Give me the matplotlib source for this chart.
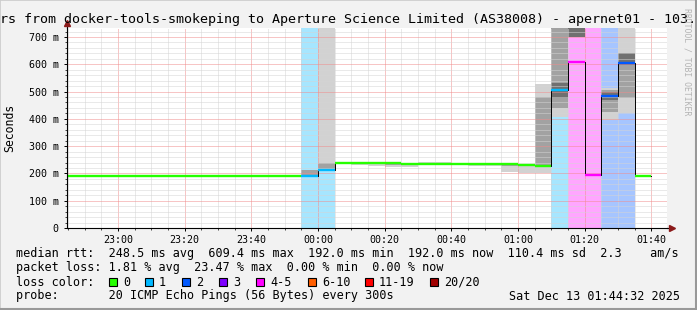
import numpy as np
import matplotlib
matplotlib.use("Agg")
import matplotlib.pyplot as plt
from matplotlib.patches import Rectangle
from matplotlib.ticker import MultipleLocator

plt.rcParams['font.family'] = 'DejaVu Sans Mono'

W, H = 697, 310

# 5 minute bins, start time of each bin
bin_time = ["22:40", "22:45", "22:50", "22:55", "23:00", "23:05", "23:10", "23:15",
            "23:20", "23:25", "23:30", "23:35", "23:40", "23:45", "23:50", "23:55",
            "00:00", "00:05", "00:10", "00:15", "00:20", "00:25", "00:30", "00:35",
            "00:40", "00:45", "00:50", "00:55", "01:00", "01:05", "01:10", "01:15",
            "01:20", "01:25", "01:30", "01:35"]
median_ms = [192, 192, 192, 192, 192, 192, 192, 192,
             192, 192, 192, 192, 192, 192, 192, 190,
             213, 238, 239, 238, 237, 236, 236, 235,
             235, 234, 234, 233, 231, 228, 505, 609,
             196, 483, 603, 192]
lost_pings = [0, 0, 0, 0, 0, 0, 0, 0,
              0, 0, 0, 0, 0, 0, 0, 1,
              1, 0, 0, 0, 0, 0, 0, 0,
              0, 0, 0, 0, 0, 0, 1, 5,
              4, 2, 2, 0]

# smoke (spread of the 20 pings), three shades
smoke_time = ["23:55", "00:00", "00:05", "00:10", "00:15", "00:20", "00:25", "00:30",
              "00:35", "00:45", "00:50", "00:55", "01:00", "01:05", "01:10", "01:15",
              "01:25", "01:30"]
outer_lo = [190, 213, 233, 232, 228, 225, 222, 230, 234, 229, 228, 206, 200, 200, 407, 700, 395, 421]
outer_hi = [213, 800, 240, 240, 240, 240, 240, 241, 242, 236, 236, 235, 233, 527, 800, 800, 513, 800]
core_lo = [190, 213, 236, 235, 233, 232, 230, 234, 235, 232, 231, 226, 226, 228, 440, 700, 425, 476]
core_hi = [213, 240, 239, 239, 238, 238, 238, 239, 239, 234, 234, 234, 232, 480, 800, 800, 505, 641]
dark_time = ["00:20", "00:25", "01:10", "01:15", "01:25", "01:30"]
dark_lo = [234, 234, 476, 700, 470, 597]
dark_hi = [238, 238, 531, 800, 500, 641]

loss_labels = ["0", "1", "2", "3", "4-5", "6-10", "11-19", "20/20"]
loss_limits = [0, 1, 2, 3, 5, 10, 19, 20]
loss_colors = ["#26ff00", "#00b8ff", "#0059ff", "#7e00ff", "#ff00ff", "#ff5e00", "#ff0000", "#a10000"]

x_tick_labels = ["23:00", "23:20", "23:40", "00:00", "00:20", "00:40", "01:00", "01:20", "01:40"]
y_tick_labels = ["0", "100 m", "200 m", "300 m", "400 m", "500 m", "600 m", "700 m"]

legend_lines = [
    "median rtt:  248.5 ms avg  609.4 ms max  192.0 ms min  192.0 ms now  110.4 ms sd  2.3    am/s",
    "packet loss: 1.81 % avg  23.47 % max  0.00 % min  0.00 % now",
    "loss color:",
    "probe:       20 ICMP Echo Pings (56 Bytes) every 300s",
]
stamp = "Sat Dec 13 01:44:32 2025"


def to_min(s):
    h, m = map(int, s.split(":"))
    v = h * 60 + m
    return v - 1440 if h >= 12 else v


def loss_class(n):
    for i, lim in enumerate(loss_limits):
        if n <= lim:
            return i
    return len(loss_limits) - 1


fig = plt.figure(figsize=(W / 100, H / 100), dpi=100, facecolor='#f2f2f2')
ax = fig.add_axes([67 / W, (H - 228) / H, 600 / W, 200 / H])
ax.set_facecolor('white')

x0 = np.array([to_min(s) for s in bin_time])
med = np.array(median_ms)
cls = [loss_class(n) for n in lost_pings]

# loss background
for x, c, n in zip(x0, cls, lost_pings):
    if n > 0:
        ax.bar(x, 1000, bottom=0, width=5, align='edge', color=loss_colors[c],
               alpha=0.35, lw=0, zorder=1)

# smoke
sx = np.array([to_min(s) for s in smoke_time])
ax.bar(sx, np.array(outer_hi) - outer_lo, bottom=outer_lo, width=5, align='edge',
       color='#d2d2d2', lw=0, zorder=1.2)
ax.bar(sx, np.array(core_hi) - core_lo, bottom=core_lo, width=5, align='edge',
       color='#a2a2a2', lw=0, zorder=1.3)
dx = np.array([to_min(s) for s in dark_time])
ax.bar(dx, np.array(dark_hi) - dark_lo, bottom=dark_lo, width=5, align='edge',
       color='#707070', lw=0, zorder=1.4)

# median line
xs = np.append(x0, x0[-1] + 5)
ys = np.append(med, med[-1])
ax.step(xs, ys, where='post', color='black', lw=0.7, zorder=3)
ax.hlines(med, x0, x0 + 5, colors=[loss_colors[c] for c in cls], lw=1.7, zorder=4)

ax.set_xlim(-75.3, 104.7)
ax.set_ylim(0, 733)

ax.set_xticks([to_min(s) for s in x_tick_labels])
ax.set_xticklabels(x_tick_labels)
ax.xaxis.set_minor_locator(MultipleLocator(5))
ax.set_yticks(np.arange(len(y_tick_labels)) * 100)
ax.set_yticklabels(y_tick_labels)
ax.yaxis.set_minor_locator(MultipleLocator(20))

ax.set_axisbelow(False)
ax.grid(which='minor', color='#d4d4d4', ls=(0, (1, 1)), lw=0.72)
ax.grid(which='major', color='#f08c8c', ls=(0, (1, 1)), lw=0.72)

for s in ['top', 'right']:
    ax.spines[s].set_visible(False)
for s in ['left', 'bottom']:
    ax.spines[s].set_linewidth(0.8)
    ax.spines[s].set_zorder(5)
ax.tick_params(which='major', direction='out', length=2, width=0.7, labelsize=7.2)
ax.tick_params(axis='x', which='major', pad=3)
ax.tick_params(axis='y', which='major', pad=4)
ax.tick_params(which='minor', direction='out', length=1.2, width=0.5)

# axis arrows
ax.plot([0, 0], [1, 1.02], transform=ax.transAxes, color='black', lw=0.8, clip_on=False)
ax.plot(0, 1.025, marker='^', ms=4.5, color='#8b1a1a', mec='#8b1a1a',
        transform=ax.transAxes, clip_on=False)
ax.plot([1, 1.006], [0, 0], transform=ax.transAxes, color='black', lw=0.8, clip_on=False)
ax.plot(1.008, 0, marker='>', ms=4.5, color='#8b1a1a', mec='#8b1a1a',
        transform=ax.transAxes, clip_on=False)

# title and side texts
fig.text(0.5, 1 - 19 / H,
         "rs from docker-tools-smokeping to Aperture Science Limited (AS38008) - apernet01 - 103.",
         ha='center', va='center', fontsize=9.6)
fig.text(10 / W, 1 - 128 / H, "Seconds", rotation=90, ha='center', va='center', fontsize=8.3)
fig.text(687 / W, 1 - 62 / H, "RRDTOOL / TOBI OETIKER", rotation=270, ha='center',
         va='center', fontsize=5.9, color='#b4b4b4')

# legend block
for i, t in enumerate(legend_lines):
    fig.text(16 / W, 1 - (254 + 14 * i) / H, t, ha='left', va='center', fontsize=8.5)
fig.text(680 / W, 1 - 296 / H, stamp, ha='right', va='center', fontsize=8.5)

square_x = [109, 145, 182, 219, 256, 308, 365, 430]
for x, col, lab in zip(square_x, loss_colors, loss_labels):
    fig.add_artist(Rectangle((x / W, (H - 286) / H), 8 / W, 8 / H, transform=fig.transFigure,
                             facecolor=col, edgecolor='black', lw=0.8))
    fig.text((x + 14) / W, 1 - 282 / H, lab, ha='left', va='center', fontsize=8.5)

# 3d frame
fig.add_artist(Rectangle((0, 0), 1, 1, transform=fig.transFigure, fill=False,
                         edgecolor='#cbcbcb', lw=1.2))
fig.add_artist(plt.Line2D([0, 1], [1 / H, 1 / H], transform=fig.transFigure,
                          color='#999999', lw=1.5))
fig.add_artist(plt.Line2D([1 - 1 / W, 1 - 1 / W], [0, 1], transform=fig.transFigure,
                          color='#999999', lw=1.5))

fig.savefig("out.png", dpi=100, facecolor=fig.get_facecolor())
